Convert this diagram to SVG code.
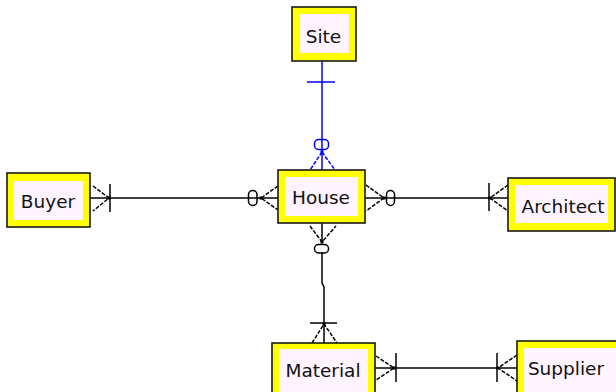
<svg xmlns="http://www.w3.org/2000/svg" width="616" height="392" viewBox="0 0 616 392">
  <style>
    .frame { fill: #ffff00; stroke: #1a1a1a; stroke-width: 1.6; }
    .inner { fill: #fff4ff; }
    .label { font-family: "DejaVu Sans", Verdana, sans-serif; font-size: 18.5px; fill: #111; text-anchor: middle; }
    .rel { fill: none; stroke: #000; stroke-width: 1.5; }
    .rel.blue { stroke: #0000ff; }
    .foot { stroke-dasharray: 4 1.5; }
    .dot { fill: #000; }
    .dot.blue { fill: #0000ff; }
  </style>

  <!-- relationship lines with crow's-foot notation -->
  <g id="connectors">
    <!-- Site - House (blue) -->
    <path class="rel blue" d="M322 61 V170"/>
    <path class="rel blue" d="M307 82 H335"/>
    <rect class="rel blue" x="314.5" y="139.5" width="14" height="10" rx="4"/>
    <path class="rel blue foot" d="M322 152 L310 170 M322 152 L335 170"/>
    <rect class="dot blue" x="320.5" y="150.5" width="3" height="3"/>

    <!-- Buyer - House -->
    <path class="rel" d="M90 198 H278"/>
    <path class="rel foot" d="M93 186 L109 198 L93 211"/>
    <path class="rel" d="M110 184 V212"/>
    <rect class="dot" x="107.5" y="196.5" width="3" height="3"/>
    <rect class="rel" x="248.5" y="190.5" width="8.5" height="15" rx="4"/>
    <path class="rel foot" d="M278 186 L261 198 L278 210"/>
    <rect class="dot" x="259.5" y="196.5" width="3" height="3"/>

    <!-- House - Architect -->
    <path class="rel" d="M365 198 H508"/>
    <path class="rel foot" d="M366 185 L384 198 L366 211"/>
    <rect class="dot" x="382.5" y="196.5" width="3" height="3"/>
    <rect class="rel" x="386.5" y="190.5" width="8" height="15" rx="4"/>
    <path class="rel" d="M489 183 V211"/>
    <path class="rel foot" d="M508 185 L490 198 L508 211"/>
    <rect class="dot" x="488.5" y="196.5" width="3" height="3"/>

    <!-- House - Material -->
    <path class="rel" d="M322 223 V242 M322 252 V283 L324 287 V343"/>
    <path class="rel foot" d="M310 226 L322 242 L336 226"/>
    <rect class="dot" x="320.5" y="240.5" width="3" height="3"/>
    <rect class="rel" x="314.5" y="244.5" width="14" height="8.5" rx="4"/>
    <path class="rel" d="M310 323 H337"/>
    <path class="rel foot" d="M312 343 L324 324 L337 343"/>
    <rect class="dot" x="322.5" y="322.5" width="3" height="3"/>

    <!-- Material - Supplier -->
    <path class="rel" d="M375 368 H517"/>
    <path class="rel foot" d="M376 356 L394 368 L376 380"/>
    <rect class="dot" x="392.5" y="366.5" width="3" height="3"/>
    <path class="rel" d="M396 353 V382"/>
    <path class="rel" d="M497 353 V382"/>
    <path class="rel foot" d="M517 355 L498 368 L517 381"/>
    <rect class="dot" x="496.5" y="366.5" width="3" height="3"/>
  </g>

  <g id="site">
    <rect class="frame" x="292" y="7" width="64" height="54"/>
    <rect class="inner" x="300" y="14" width="49" height="39"/>
    <text class="label" x="323.5" y="43">Site</text>
  </g>

  <g id="buyer">
    <rect class="frame" x="7" y="173" width="83" height="54"/>
    <rect class="inner" x="14" y="181" width="69" height="39"/>
    <text class="label" x="48" y="208">Buyer</text>
  </g>

  <g id="house">
    <rect class="frame" x="278" y="170" width="87" height="53"/>
    <rect class="inner" x="285" y="177" width="73" height="39"/>
    <text class="label" x="321" y="204">House</text>
  </g>

  <g id="architect">
    <rect class="frame" x="508" y="178" width="107" height="53"/>
    <rect class="inner" x="515" y="185" width="93" height="38"/>
    <text class="label" x="563" y="213">Architect</text>
  </g>

  <g id="material">
    <rect class="frame" x="272" y="343" width="103" height="60"/>
    <rect class="inner" x="279" y="349" width="89" height="50"/>
    <text class="label" x="323" y="377">Material</text>
  </g>

  <g id="supplier">
    <rect class="frame" x="517" y="341" width="110" height="60"/>
    <rect class="inner" x="524" y="348" width="96" height="50"/>
    <text class="label" x="566" y="375">Supplier</text>
  </g>
</svg>
